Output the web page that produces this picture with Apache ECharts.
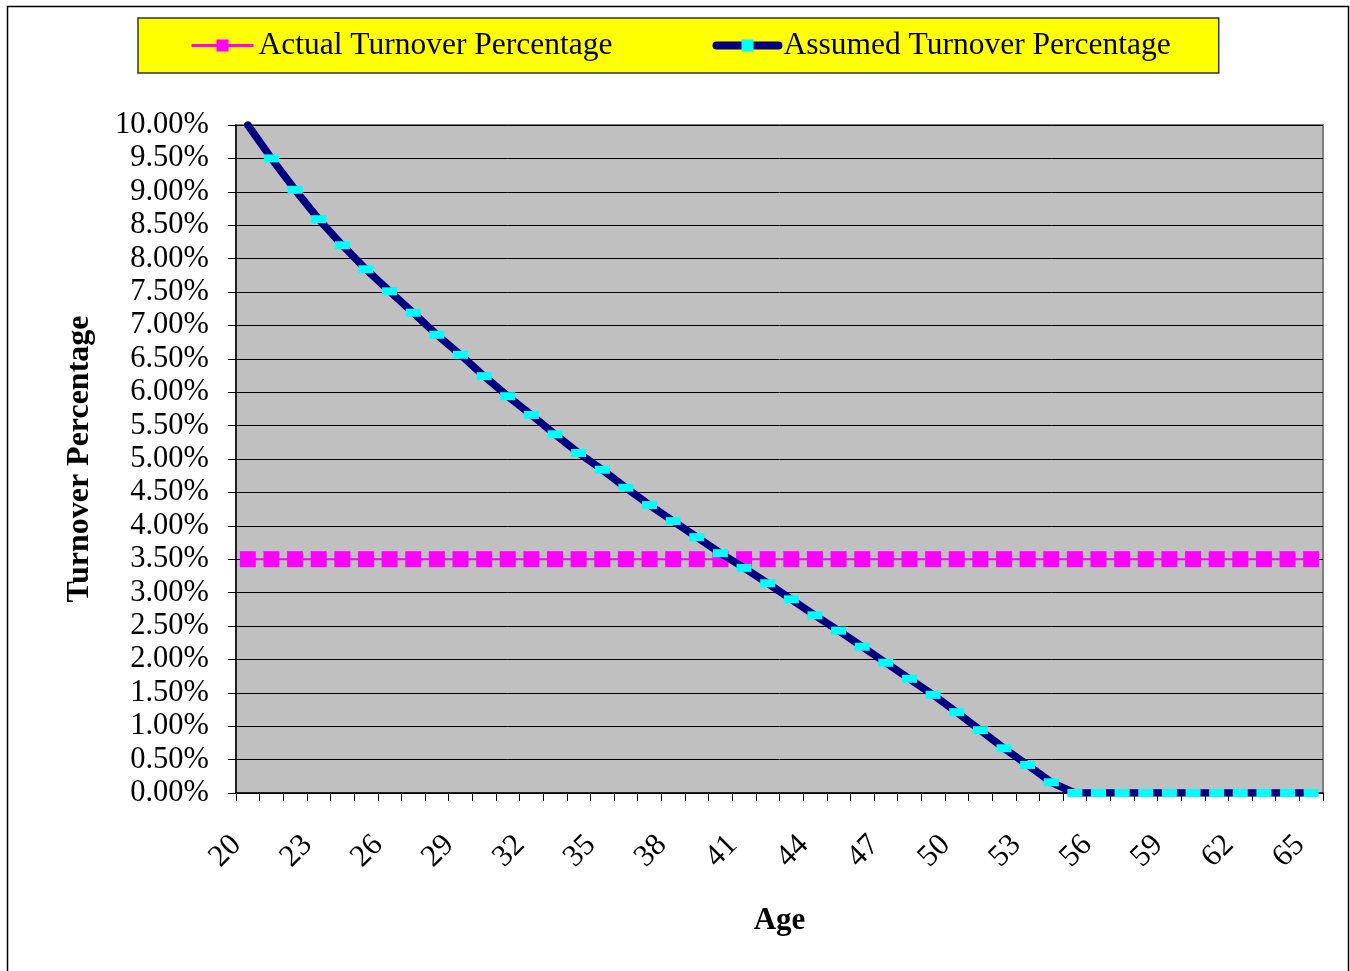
<!DOCTYPE html>
<html>
<head>
<meta charset="utf-8">
<script src="https://cdn.jsdelivr.net/npm/echarts@6/dist/echarts.min.js"></script>
<style>html,body{margin:0;padding:0;background:#fff;}#c{width:1350px;height:971px;}</style>
</head>
<body>
<div id="c"></div>
<script>
var ages = [20,21,22,23,24,25,26,27,28,29,30,31,32,33,34,35,36,37,38,39,40,41,42,43,44,45,46,47,48,49,50,51,52,53,54,55,56,57,58,59,60,61,62,63,64,65];
var actualTurnover = [0.035,0.035,0.035,0.035,0.035,0.035,0.035,0.035,0.035,0.035,0.035,0.035,0.035,0.035,0.035,0.035,0.035,0.035,0.035,0.035,0.035,0.035,0.035,0.035,0.035,0.035,0.035,0.035,0.035,0.035,0.035,0.035,0.035,0.035,0.035,0.035,0.035,0.035,0.035,0.035,0.035,0.035,0.035,0.035,0.035,0.035];
var assumedTurnover = [0.1000,0.0950,0.0903,0.0859,0.0820,0.0784,0.0751,0.0719,0.0686,0.0656,0.0624,0.0594,0.0566,0.0537,0.0509,0.0484,0.0457,0.0431,0.0407,0.0383,0.0359,0.0337,0.0314,0.0290,0.0266,0.0243,0.0219,0.0195,0.0171,0.0147,0.0121,0.0094,0.0067,0.0042,0.0016,0,0,0,0,0,0,0,0,0,0,0];
var yTicks = {min: 0, max: 0.10, step: 0.005};

var serif = '"Liberation Serif", "DejaVu Serif", serif';
var chart = echarts.init(document.getElementById('c'));
chart.setOption({
  animation: false,
  backgroundColor: '#ffffff',
  graphic: [{
    type: 'rect', shape: {x: 7.5, y: 6.5, width: 1341, height: 990},
    style: {fill: 'none', stroke: '#000', lineWidth: 1.5}, z: -10, silent: true
  }],
  legend: {
    left: 138, top: 18,
    padding: [10, 48, 10, 52],
    itemGap: 100,
    itemWidth: 62, itemHeight: 15,
    backgroundColor: '#ffff00',
    borderColor: '#333',
    borderWidth: 1.5,
    textStyle: {fontFamily: serif, fontSize: 31.5, color: '#000', padding: [5, 0, 0, 0], lineHeight: 30},
    data: [
      {name: 'Actual Turnover Percentage', lineStyle: {width: 3, color: '#ff00ff'}},
      {name: 'Assumed Turnover Percentage', lineStyle: {width: 8, color: '#000080', cap: 'round'}}
    ]
  },
  grid: {left: 236, right: 27, top: 125, bottom: 178, show: true, backgroundColor: '#c0c0c0', borderColor: '#808080', borderWidth: 2},
  xAxis: {
    type: 'category',
    data: ages,
    boundaryGap: true,
    name: 'Age',
    nameLocation: 'middle',
    nameGap: 112,
    nameTextStyle: {fontFamily: serif, fontSize: 31, fontWeight: 'bold', color: '#000'},
    axisLine: {lineStyle: {color: '#000', width: 1.5}},
    axisTick: {show: true, interval: 0, length: 8, lineStyle: {color: '#000'}},
    axisLabel: {interval: 2, rotate: 45, margin: 36, fontFamily: serif, fontSize: 31, color: '#000', padding: [0, 16, 0, 0]},
    splitLine: {show: false}
  },
  yAxis: {
    type: 'value',
    min: yTicks.min, max: yTicks.max, interval: yTicks.step,
    name: 'Turnover Percentage',
    nameLocation: 'middle',
    nameGap: 140,
    nameTextStyle: {fontFamily: serif, fontSize: 32, fontWeight: 'bold', color: '#000'},
    axisLine: {show: true, lineStyle: {color: '#000', width: 1.5}},
    axisTick: {show: true, length: 8, lineStyle: {color: '#000'}},
    axisLabel: {margin: 27, fontFamily: serif, fontSize: 30.5, color: '#000',
      formatter: function (v) { return (v * 100).toFixed(2) + '%'; }},
    splitLine: {show: true, lineStyle: {color: '#000', width: 1}}
  },
  series: [
    {
      name: 'Actual Turnover Percentage',
      type: 'line',
      data: actualTurnover,
      symbol: 'rect',
      symbolSize: 16,
      showAllSymbol: true,
      lineStyle: {color: '#ff00ff', width: 2},
      itemStyle: {color: '#ff00ff', borderWidth: 0},
      z: 2
    },
    {
      name: 'Assumed Turnover Percentage',
      type: 'line',
      data: assumedTurnover.map(function (v, i) { return i === 0 ? {value: v, symbol: 'none'} : v; }),
      symbol: 'rect',
      symbolSize: [15, 8],
      showAllSymbol: true,
      lineStyle: {color: '#000080', width: 7.5, cap: 'round', join: 'round'},
      itemStyle: {color: '#00ffff', borderWidth: 0},
      z: 3
    }
  ]
});
</script>
</body>
</html>
